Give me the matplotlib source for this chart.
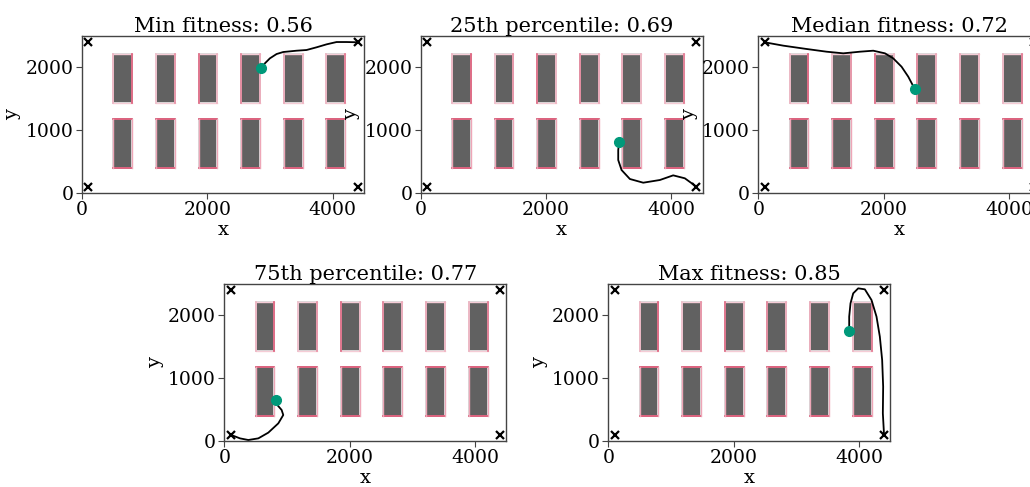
import matplotlib
matplotlib.use('Agg')
import matplotlib.pyplot as plt
from matplotlib.patches import Rectangle

plt.rcParams['font.family'] = ['DejaVu Serif']

# Warehouse layout -----------------------------------------------------------
shelf_x = [500, 1180, 1860, 2540, 3220, 3900]
shelf_rows = [(400, 1175), (1440, 2215)]   # (bottom, top)
shelf_w = 300
depots_x = [100, 4400, 100, 4400]
depots_y = [100, 100, 2400, 2400]

# pick-face shading per shelf (0 = pale, 1 = strong), upper row: left/right
upper_left = [0.2, 0.1, 0.8, 0.6, 0.3, 0.2]
upper_right = [0.9, 0.5, 0.2, 0.3, 0.2, 0.7]

# Paths (x, y) per panel, start -> end ---------------------------------------
titles = ['Min fitness: 0.56', '25th percentile: 0.69', 'Median fitness: 0.72',
          '75th percentile: 0.77', 'Max fitness: 0.85']

path_min_x = [2850, 2919, 2998, 3105, 3211, 3424, 3583, 3743, 3902, 4062, 4221, 4400]
path_min_y = [1985, 2065, 2144, 2213, 2245, 2266, 2277, 2320, 2367, 2404, 2404, 2400]

path_p25_x = [3168, 3152, 3152, 3205, 3338, 3551, 3817, 4029, 4215, 4400]
path_p25_y = [817, 685, 525, 366, 223, 164, 207, 281, 234, 100]

path_med_x = [100, 400, 772, 1090, 1356, 1622, 1834, 2021, 2153, 2286, 2393, 2499]
path_med_y = [2400, 2346, 2293, 2250, 2224, 2250, 2266, 2224, 2144, 2011, 1852, 1651]

path_p75_x = [100, 250, 383, 543, 702, 862, 941, 915, 846, 819]
path_p75_y = [100, 42, 16, 42, 133, 281, 414, 494, 573, 653]

path_max_x = [3844, 3844, 3865, 3908, 3988, 4094, 4200, 4280, 4333, 4370, 4386, 4381, 4400]
path_max_y = [1757, 1980, 2192, 2351, 2431, 2415, 2245, 1980, 1662, 1290, 865, 441, 100]

paths = [(path_min_x, path_min_y), (path_p25_x, path_p25_y), (path_med_x, path_med_y),
         (path_p75_x, path_p75_y), (path_max_x, path_max_y)]
# which end of the path carries the green dot
dot_at_start = [True, True, False, False, True]

W, H = 1030, 487
boxes = [(82, 193), (420.7, 193), (758.3, 193), (224.3, 441), (608.3, 441)]
aw, ah = 282, 157

pale = '#f5ccd6'
strong = '#dc4d6d'


def mix(t):
    a = matplotlib.colors.to_rgb(pale)
    b = matplotlib.colors.to_rgb(strong)
    return tuple(a[i] + (b[i] - a[i]) * t for i in range(3))


def draw_layout(ax):
    for i, x0 in enumerate(shelf_x):
        for r, (y0, y1) in enumerate(shelf_rows):
            ax.add_patch(Rectangle((x0, y0), shelf_w, y1 - y0, facecolor='#616161',
                                   edgecolor='#d9d9d9', linewidth=1.4, zorder=2))
            if r == 0:
                ax.plot([x0, x0 + shelf_w], [y0, y0], color=strong, lw=1.2, zorder=3)
                ax.plot([x0, x0 + shelf_w], [y1, y1], color=strong, lw=1.2, zorder=3)
                ax.plot([x0, x0], [y0, y1], color=mix(0.3), lw=1.0, zorder=3)
                ax.plot([x0 + shelf_w, x0 + shelf_w], [y0, y1], color=mix(0.3), lw=1.0, zorder=3)
            else:
                ax.plot([x0, x0 + shelf_w], [y0, y0], color=mix(0.0), lw=1.0, zorder=3)
                ax.plot([x0, x0 + shelf_w], [y1, y1], color=mix(0.0), lw=1.0, zorder=3)
                ax.plot([x0, x0], [y0, y1], color=mix(upper_left[i]), lw=1.2, zorder=3)
                ax.plot([x0 + shelf_w, x0 + shelf_w], [y0, y1], color=mix(upper_right[i]),
                        lw=1.2, zorder=3)
    ax.plot(depots_x, depots_y, 'x', color='black', ms=5.5, mew=1.6, zorder=4)


fig = plt.figure(figsize=(W / 100, H / 100), dpi=100)

for k, (left, bottom) in enumerate(boxes):
    ax = fig.add_axes([left / W, 1 - bottom / H, aw / W, ah / H])
    draw_layout(ax)
    px, py = paths[k]
    ax.plot(px, py, color='black', lw=1.3, zorder=5)
    j = 0 if dot_at_start[k] else -1
    ax.plot(px[j], py[j], 'o', color='#00997a', ms=7, zorder=6)
    ax.set_xlim(0, 4500)
    ax.set_ylim(0, 2500)
    ax.set_xticks([0, 2000, 4000])
    ax.set_yticks([0, 1000, 2000])
    ax.tick_params(labelsize=13.5, length=4, color='#444444', pad=2)
    for s in ax.spines.values():
        s.set_color('#444444')
        s.set_linewidth(1.0)
    ax.set_title(titles[k], fontsize=15, pad=3)
    ax.set_xlabel('x', fontsize=14, labelpad=1)
    ax.set_ylabel('y', fontsize=14, labelpad=3)

fig.savefig('out.png', dpi=100)
